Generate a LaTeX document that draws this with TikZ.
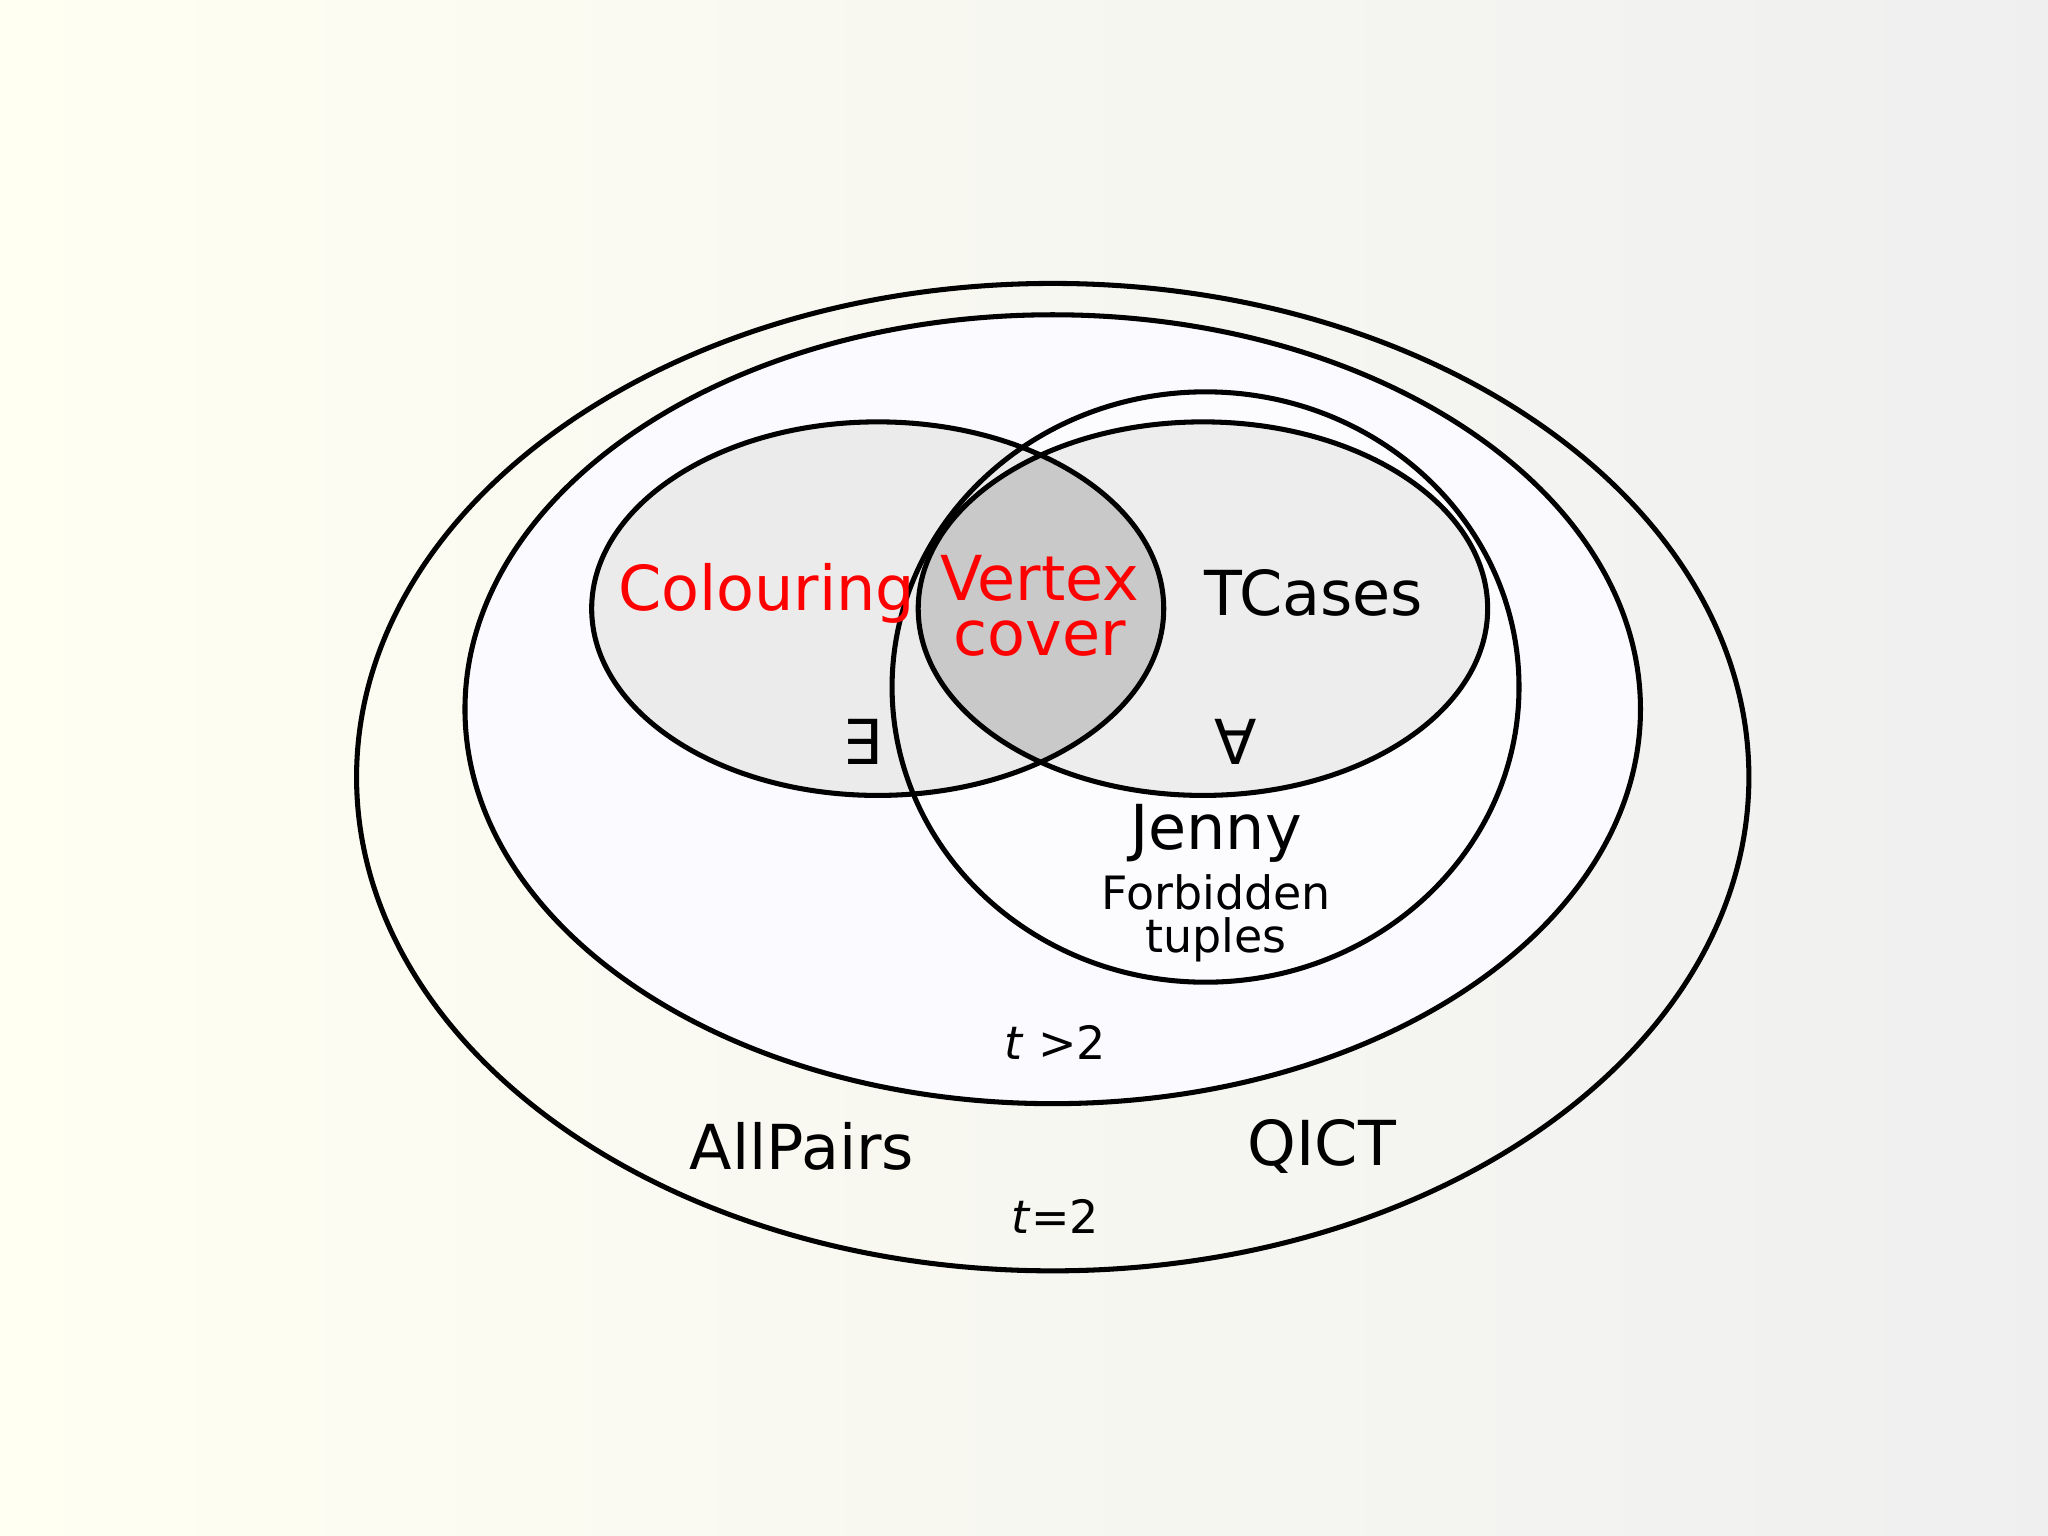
\documentclass[tikz,border=0pt]{standalone}
\usepackage{fontspec}
\setmainfont{DejaVu Sans}
\begin{document}
\begin{tikzpicture}[x=0.01cm,y=-0.01cm,
  ell/.style={draw=black,line width=1.1pt},
  lbl/.style={font=\fontsize{13.5}{14}\selectfont,inner sep=0pt},
  sm/.style={font=\fontsize{10}{10.5}\selectfont,inner sep=0pt,align=center}]
\shade[shading=axis,shading angle=135,left color=yellow!5!white,right color=blue!3!gray!12!white] (0,0) rectangle (1568,1176);
\useasboundingbox (0,0) rectangle (1568,1176);
\draw[ell] (806,595) ellipse [x radius=533,y radius=378];
\draw[ell,fill=blue!2!white] (806,543) ellipse [x radius=450,y radius=302];
\fill[black!5!blue!1!white] (923,526) ellipse [x radius=240,y radius=226];
\fill[black!8] (672,466) ellipse [x radius=219,y radius=143];
\fill[black!7] (921,466) ellipse [x radius=218,y radius=143];
\begin{scope}
\clip (672,466) ellipse [x radius=219,y radius=143];
\fill[black!21] (921,466) ellipse [x radius=218,y radius=143];
\end{scope}
\draw[ell] (923,526) ellipse [x radius=240,y radius=226];
\draw[ell] (672,466) ellipse [x radius=219,y radius=143];
\draw[ell] (921,466) ellipse [x radius=218,y radius=143];
\node[lbl,text=red] (col) at (587,454) {Colouring};
\node[lbl,text=red,align=center,font=\fontsize{13.5}{12}\selectfont] (vc) at (796,464) {Vertex\\cover};
\node[lbl] (tc) at (1006,454) {TCases};
\node[lbl] (ex) at (660,568) {∃};
\node[lbl] (fa) at (946,568) {∀};
\node[lbl] (jen) at (931,638) {Jenny};
\node[sm,font=\fontsize{10}{9.5}\selectfont] (fb) at (931,703) {Forbidden\\tuples};
\node[sm] (tg) at (808,798) {\textit{t} >2};
\node[lbl] (ap) at (614,878) {AllPairs};
\node[lbl] (qi) at (1012,878) {QICT};
\node[sm] (te) at (808,931) {\textit{t}=2};
\end{tikzpicture}
\end{document}
